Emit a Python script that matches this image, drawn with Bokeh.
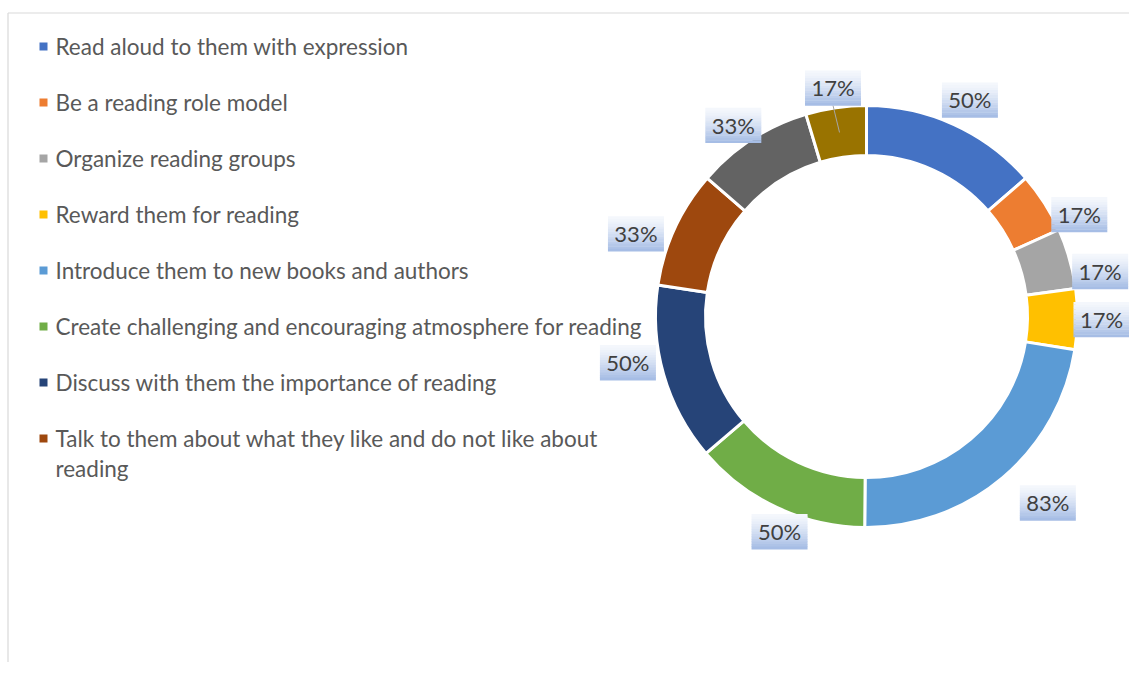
import math
import textwrap
from bokeh.plotting import figure
from bokeh.models import Range1d
from bokeh.core.properties import value
from bokeh.embed import file_html
from bokeh.resources import INLINE

# ---------------- data ----------------
categories = [
    "Read aloud to them with expression",
    "Be a reading role model",
    "Organize reading groups",
    "Reward them for reading",
    "Introduce them to new books and authors",
    "Create challenging and encouraging atmosphere for reading",
    "Discuss with them the importance of reading",
    "Talk to them about what they like and do not like about reading",
]
values = [50, 17, 17, 17, 83, 50, 50, 33, 33, 17]
colors = ["#4472C4", "#ED7D31", "#A5A5A5", "#FFC000", "#5B9BD5",
          "#70AD47", "#264478", "#9E480E", "#636363", "#997300"]
value_labels = [f"{v}%" for v in values]

# ---------------- layout (screen-pixel based) ----------------
W, H = 1129, 662
def Y(s):  # screen y -> data y
    return H - s

CX, CY = 866, 316
R_OUT, R_IN = 211, 161
label_r = [240, 236, 238, 235, 260, 232, 243, 245, 233, 231]
label_shift = [-1, -7, -5, 0, 4, 3, -5, 5, 2, 0]   # degrees
BOX_W, BOX_H = 56, 35
FONT = value("Lato")

p = figure(width=W, height=H, x_range=Range1d(0, W), y_range=Range1d(0, H),
           output_backend="svg", toolbar_location=None,
           x_axis_type=None, y_axis_type=None, min_border=0)
p.outline_line_color = None
p.grid.grid_line_color = None
p.background_fill_color = "white"
p.border_fill_color = "white"

# frame
p.segment(x0=[7.5, 7.5], y0=[Y(12.5), Y(12.5)], x1=[7.5, W], y1=[0, Y(12.5)],
          line_color="#d9d9d9", line_width=1.2)

# donut
total = sum(values)
starts, ends, mids = [], [], []
cum = 0
for v in values:
    a0 = math.pi / 2 - 2 * math.pi * cum / total
    cum += v
    a1 = math.pi / 2 - 2 * math.pi * cum / total
    starts.append(a1)
    ends.append(a0)
    mids.append((a0 + a1) / 2)

p.annular_wedge(x=CX, y=Y(CY), inner_radius=R_IN, outer_radius=R_OUT,
                start_angle=starts, end_angle=ends, fill_color=colors,
                line_color="white", line_width=3)

# labels
lx, ly = [], []
for i, m in enumerate(mids):
    a = m + math.radians(label_shift[i])
    lx.append(CX + label_r[i] * math.cos(a))
    ly.append(Y(CY) + label_r[i] * math.sin(a))

# leader line for the small last slice
lm = mids[-1]
p.segment(x0=[lx[-1]], y0=[ly[-1] - BOX_H / 2],
          x1=[CX + 186 * math.cos(lm)], y1=[Y(CY) + 186 * math.sin(lm)],
          line_color="#a6a6a6", line_width=1)

# gradient boxes
def lerp(c0, c1, t):
    return "#%02x%02x%02x" % tuple(int(round(c0[k] + (c1[k] - c0[k]) * t)) for k in range(3))
top_c, bot_c = (244, 247, 252), (166, 189, 229)
n = 14
L, R, T, B, C = [], [], [], [], []
for x, y in zip(lx, ly):
    for k in range(n):
        t = k / (n - 1)
        L.append(x - BOX_W / 2)
        R.append(x + BOX_W / 2)
        T.append(y + BOX_H / 2 - k * BOX_H / n)
        B.append(y + BOX_H / 2 - (k + 1) * BOX_H / n - 0.3)
        C.append(lerp(top_c, bot_c, t ** 1.3))
p.quad(left=L, right=R, top=T, bottom=B, fill_color=C, line_color=None)

p.text(x=lx, y=ly, text=value_labels, text_align="center", text_baseline="middle",
       text_font=FONT, text_font_size="22px", text_color="#404040")

# legend
leg_y0, leg_step, line_step = 46, 56, 30
for i, cat in enumerate(categories):
    sy = leg_y0 + i * leg_step
    p.rect(x=43, y=Y(sy), width=8, height=8, fill_color=colors[i], line_color=None)
    lines = textwrap.wrap(cat, 57)
    p.text(x=[55] * len(lines), y=[Y(sy + j * line_step) for j in range(len(lines))],
           text=lines, text_align="left", text_baseline="middle",
           text_font=FONT, text_font_size="22.5px", text_color="#595959")

open("out.html", "w").write(file_html(p, INLINE))
